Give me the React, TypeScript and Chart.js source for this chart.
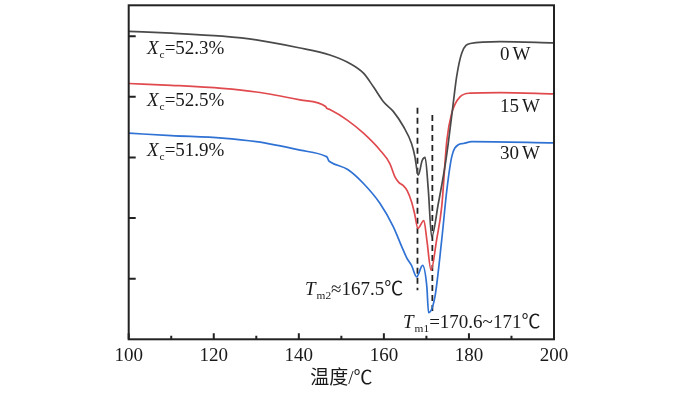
import React, { useEffect, useRef } from "react";
import { Chart, registerables } from "chart.js";
Chart.register(...registerables);

// ---- data ----
const T_0W = [100, 110, 122, 130, 140, 147.3, 152, 155.2, 157.5, 159.9, 162.2, 164.6, 166.5, 167.3, 167.9, 168.1, 169.0, 169.7, 170.45, 171.24, 172.8, 174.4, 175.15, 176.3, 177.1, 178.3, 180.3, 187.3, 200];
const Y_0W = [5.08, 5.05, 5.0, 4.94, 4.81, 4.69, 4.55, 4.39, 4.17, 3.92, 3.76, 3.51, 3.23, 3.01, 2.74, 2.71, 2.95, 3.0, 2.46, 1.69, 2.24, 2.87, 3.24, 3.89, 4.33, 4.72, 4.88, 4.91, 4.89];

const T_15W = [100, 110, 122, 130, 140.3, 146.3, 146.6, 147.3, 151.3, 155.2, 159.1, 161.4, 162.6, 163.5, 164.5, 165.5, 166.5, 167.2, 168.0, 169.4, 170.1, 171.1, 172.4, 173.6, 174.8, 175.95, 177.9, 180.25, 187.3, 200];
const Y_15W = [4.22, 4.19, 4.14, 4.08, 3.95, 3.84, 3.81, 3.79, 3.62, 3.4, 3.12, 2.9, 2.68, 2.59, 2.54, 2.45, 2.27, 2.08, 1.83, 1.96, 1.64, 1.14, 1.64, 2.19, 3.28, 3.73, 4.0, 4.06, 4.07, 4.05];

const T_30W = [100, 110, 122, 130, 140.3, 146.3, 146.7, 147.0, 147.3, 151.5, 155.2, 159.1, 162.2, 164.2, 165.4, 166.5, 167.7, 169.1, 170.1, 170.5, 172.0, 173.6, 174.8, 175.95, 177.5, 178.7, 180.65, 200];
const Y_30W = [3.4, 3.36, 3.32, 3.26, 3.12, 3.02, 3.0, 2.95, 2.93, 2.8, 2.57, 2.24, 1.86, 1.53, 1.34, 1.22, 1.03, 1.22, 0.87, 0.44, 0.7, 1.64, 2.46, 3.01, 3.21, 3.23, 3.26, 3.24];

const TM2_X = [167.9, 167.9];
const TM2_Y = [3.82, 0.81];
const TM1_X = [171.4, 171.4];
const TM1_Y = [3.7, 0.43];

const X_TICKS = [100, 120, 140, 160, 180, 200];
const X_MINOR = [110, 130, 150, 170, 190];
const Y_TICKS = [1, 2, 3, 4, 5];

const SERIES_LABELS = ["0 W", "15 W", "30 W"];
const XC_VALUES = ["52.3%", "52.5%", "51.9%"];
const TM2_TEXT = "≈167.5℃";
const TM1_TEXT = "=170.6~171℃";
const X_TITLE = "温度/℃";

const pts = (xs: number[], ys: number[]) => xs.map((x, i) => ({ x, y: ys[i] }));

const FONT = '"Liberation Serif", "Noto Sans CJK SC", serif';

type Part = { t: string; italic?: boolean; sub?: boolean };

function drawRich(ctx: CanvasRenderingContext2D, x: number, yMid: number, parts: Part[], size: number) {
  let cx = x;
  const base = yMid + size * 0.33;
  for (const p of parts) {
    const fs = p.sub ? size * 0.6 : size;
    ctx.font = `${p.italic ? "italic " : ""}${fs}px ${FONT}`;
    const dy = p.sub ? size * 0.22 : 0;
    ctx.fillText(p.t, cx, base + dy);
    cx += ctx.measureText(p.t).width + (p.italic ? 1 : 0);
  }
}

const framePlugin = {
  id: "frame",
  afterDatasetsDraw(chart: any) {
    const { ctx, chartArea: a, scales } = chart;
    const xs = scales.x;
    const ys = scales.y;
    ctx.save();
    ctx.strokeStyle = "#222";
    ctx.lineWidth = 2;
    ctx.strokeRect(a.left, a.top, a.right - a.left, a.bottom - a.top);
    ctx.beginPath();
    for (const v of X_TICKS) {
      const px = xs.getPixelForValue(v);
      ctx.moveTo(px, a.bottom);
      ctx.lineTo(px, a.bottom - 6);
    }
    for (const v of X_MINOR) {
      const px = xs.getPixelForValue(v);
      ctx.moveTo(px, a.bottom);
      ctx.lineTo(px, a.bottom - 3.5);
    }
    for (const v of Y_TICKS) {
      const py = ys.getPixelForValue(v);
      ctx.moveTo(a.left, py);
      ctx.lineTo(a.left + 7, py);
    }
    ctx.stroke();

    // annotations
    ctx.fillStyle = "#1a1a1a";
    ctx.textAlign = "left";
    const size = 19;
    const xcY = [4.815, 3.957, 3.124];
    XC_VALUES.forEach((val, i) => {
      drawRich(ctx, xs.getPixelForValue(104.3), ys.getPixelForValue(xcY[i]), [
        { t: "X", italic: true },
        { t: "c", sub: true },
        { t: "=" + val },
      ], size);
    });
    const wY = [4.708, 3.85, 3.074];
    SERIES_LABELS.forEach((lab, i) => {
      const [n, w] = lab.split(" ");
      const x0 = xs.getPixelForValue(187.3);
      const y0 = ys.getPixelForValue(wY[i]);
      ctx.font = `${size}px ${FONT}`;
      const base = y0 + size * 0.33;
      ctx.fillText(n, x0, base);
      ctx.fillText(w, x0 + ctx.measureText(n).width + 3, base);
    });
    drawRich(ctx, xs.getPixelForValue(141.45), ys.getPixelForValue(0.84), [
      { t: "T", italic: true },
      { t: "m2", sub: true },
      { t: TM2_TEXT },
    ], size);
    drawRich(ctx, xs.getPixelForValue(164.5), ys.getPixelForValue(0.29), [
      { t: "T", italic: true },
      { t: "m1", sub: true },
      { t: TM1_TEXT },
    ], size);
    ctx.restore();
  },
};

export default function App() {
  const ref = useRef<HTMLCanvasElement | null>(null);
  useEffect(() => {
    if (!ref.current) return;
    const lineStyle = { pointRadius: 0, borderWidth: 1.7, cubicInterpolationMode: "monotone" as const, fill: false };
    const dashStyle = { pointRadius: 0, borderWidth: 1.8, borderColor: "#222", borderDash: [6, 4], fill: false };
    const chart = new Chart(ref.current, {
      type: "line",
      data: {
        datasets: [
          { label: SERIES_LABELS[0], data: pts(T_0W, Y_0W), borderColor: "#4a4a4a", ...lineStyle },
          { label: SERIES_LABELS[1], data: pts(T_15W, Y_15W), borderColor: "#e04a4e", ...lineStyle },
          { label: SERIES_LABELS[2], data: pts(T_30W, Y_30W), borderColor: "#2f72d4", ...lineStyle },
          { label: "Tm2", data: pts(TM2_X, TM2_Y), ...dashStyle },
          { label: "Tm1", data: pts(TM1_X, TM1_Y), ...dashStyle },
        ],
      },
      options: {
        animation: false,
        responsive: false,
        devicePixelRatio: 1,
        layout: { padding: { left: 128.7, right: 121, top: 5.3, bottom: 0 } },
        plugins: { legend: { display: false }, tooltip: { enabled: false } },
        scales: {
          x: {
            type: "linear",
            min: 100,
            max: 200,
            grid: { display: false, drawTicks: false },
            border: { display: false },
            afterBuildTicks: (s: any) => {
              s.ticks = X_TICKS.map((v) => ({ value: v }));
            },
            afterFit: (s: any) => {
              s.height = 394 - 339.3;
            },
            ticks: { color: "#1a1a1a", font: { family: FONT, size: 19 }, padding: 5, maxRotation: 0 },
            title: { display: true, text: X_TITLE, color: "#1a1a1a", font: { family: FONT, size: 19 }, padding: { top: 0, bottom: 4 } },
          },
          y: {
            type: "linear",
            min: 0,
            max: 5.51,
            grid: { display: false, drawTicks: false },
            border: { display: false },
            ticks: { display: false },
            afterFit: (s: any) => {
              s.width = 0;
            },
          },
        },
      },
      plugins: [framePlugin],
    });
    return () => chart.destroy();
  }, []);
  return (
    <div style={{ position: "fixed", left: 0, top: 0, width: 675, height: 394, background: "#fff" }}>
      <canvas ref={ref} width={675} height={394} style={{ display: "block" }} />
    </div>
  );
}
